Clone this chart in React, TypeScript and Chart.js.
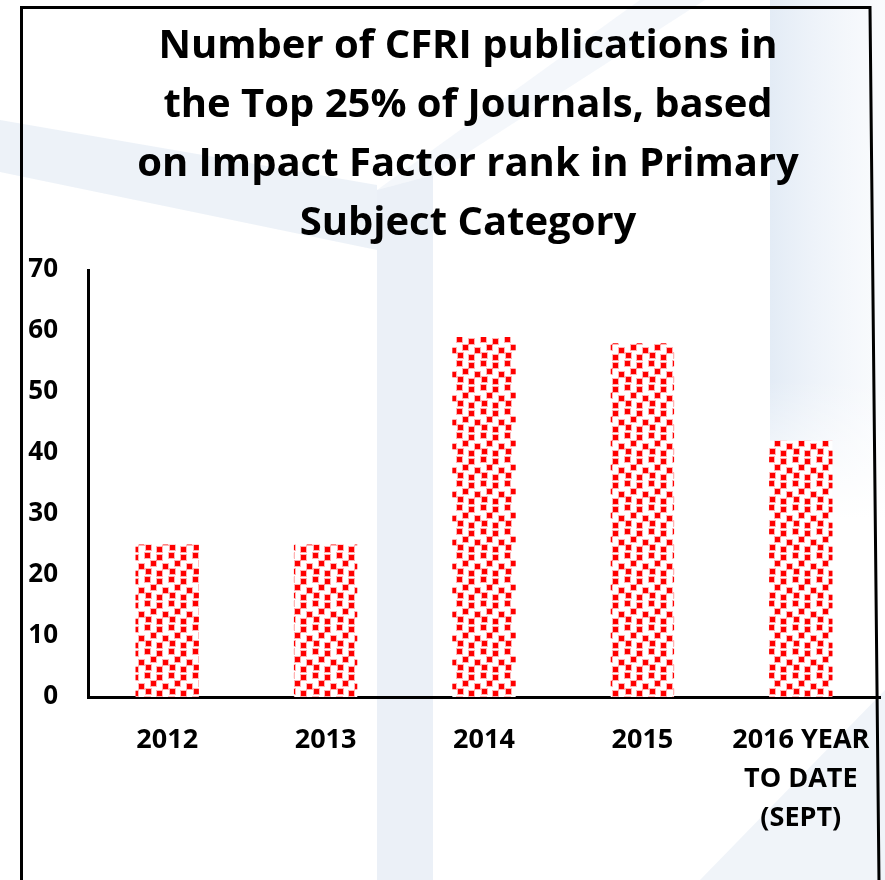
import React, { useEffect, useRef } from "react";
import { Chart, registerables } from "chart.js";

Chart.register(...registerables);

const categories: (string | string[])[] = ["2012", "2013", "2014", "2015", ["2016 YEAR", "TO DATE", "(SEPT)"]];
const publications = [25, 25, 59, 58, 42];
const titleLines = [
  "Number of CFRI publications in",
  "the Top 25% of Journals, based",
  "on Impact Factor rank in Primary",
  "Subject Category",
];
const yMin = 0;
const yMax = 70;
const yStep = 10;

const FONT = "'Open Sans', 'DejaVu Sans', sans-serif";
const W = 885;
const H = 880;

function makeConfetti(): CanvasPattern | string {
  const size = 24;
  const c = document.createElement("canvas");
  c.width = size;
  c.height = size;
  const g = c.getContext("2d");
  if (!g) return "#ff0000";
  g.fillStyle = "#ffffff";
  g.fillRect(0, 0, size, size);
  const dots = [
    [1, 1],
    [13, 3],
    [7, 9],
    [19, 12],
    [2, 17],
    [13, 19],
  ];
  const put = (x: number, y: number, w: number, color: string) => {
    g.fillStyle = color;
    for (const dx of [-size, 0, size]) {
      for (const dy of [-size, 0, size]) {
        g.fillRect(x + dx, y + dy, w, w);
      }
    }
  };
  for (const [x, y] of dots) {
    put(x - 1, y - 1, 7, "rgba(255,0,0,0.3)");
    put(x, y, 5, "#ff0000");
  }
  const p = g.createPattern(c, "repeat");
  return p || "#ff0000";
}

const backdrop = {
  id: "backdrop",
  afterLayout(chart: any) {
    // let the y tick labels use the space left of the axis (no clipping)
    const s = chart.scales.y;
    if (s) {
      s.left = 0;
      s.width = s.right;
    }
  },
  beforeDraw(chart: any) {
    const ctx = chart.ctx as CanvasRenderingContext2D;
    ctx.save();
    ctx.fillStyle = "#ffffff";
    ctx.fillRect(0, 0, W, H);
    const poly = (pts: number[][], color: any) => {
      ctx.beginPath();
      ctx.moveTo(pts[0][0], pts[0][1]);
      for (let i = 1; i < pts.length; i++) ctx.lineTo(pts[i][0], pts[i][1]);
      ctx.closePath();
      ctx.fillStyle = color;
      ctx.fill();
    };
    // faint slide background shapes
    poly([[0, 120], [0, 172], [377, 250], [377, 185]], "rgba(210,222,238,0.4)");
    poly([[377, 190], [433, 175], [433, H], [377, H]], "rgba(218,228,241,0.55)");
    poly([[377, 190], [433, 175], [705, 0], [640, 0]], "rgba(218,228,241,0.3)");
    const gr = ctx.createLinearGradient(770, 0, 880, 0);
    gr.addColorStop(0, "rgba(222,232,244,0.85)");
    gr.addColorStop(1, "rgba(240,244,250,0.4)");
    poly([[770, 0], [W, 0], [W, 520], [770, 520]], gr);
    const fade = ctx.createLinearGradient(0, 380, 0, 520);
    fade.addColorStop(0, "rgba(255,255,255,0)");
    fade.addColorStop(1, "rgba(255,255,255,1)");
    poly([[770, 380], [W, 380], [W, 520], [770, 520]], fade);
    poly([[700, H], [W, 690], [W, H]], "rgba(225,233,243,0.5)");
    ctx.restore();
  },
  afterDraw(chart: any) {
    const ctx = chart.ctx as CanvasRenderingContext2D;
    ctx.save();
    ctx.strokeStyle = "#000000";
    ctx.lineWidth = 3;
    ctx.beginPath();
    ctx.moveTo(21.5, H);
    ctx.lineTo(21.5, 7.5);
    ctx.lineTo(870, 7.5);
    ctx.lineTo(879, H);
    ctx.stroke();
    ctx.restore();
  },
};

export default function App() {
  const ref = useRef<HTMLCanvasElement | null>(null);

  useEffect(() => {
    if (!ref.current) return;
    const chart = new Chart(ref.current, {
      type: "bar",
      data: {
        labels: categories as any,
        datasets: [
          {
            data: publications,
            backgroundColor: makeConfetti() as any,
            borderWidth: 0,
            categoryPercentage: 0.8,
            barPercentage: 0.5,
          },
        ],
      },
      options: {
        animation: false,
        responsive: false,
        layout: { padding: { left: 56, right: 5, top: 0, bottom: 0 } },
        plugins: {
          legend: { display: false },
          tooltip: { enabled: false },
          title: {
            display: true,
            text: titleLines,
            color: "#000000",
            font: { family: FONT, size: 40, weight: "bold", lineHeight: 59 / 40 },
            padding: { top: 17, bottom: 17 },
          },
        },
        scales: {
          x: {
            grid: { display: false, drawTicks: false },
            border: { display: true, color: "#000000", width: 3 },
            ticks: {
              color: "#000000",
              font: { family: FONT, size: 27, weight: "bold", lineHeight: 1.44 },
              padding: 24,
              maxRotation: 0,
              autoSkip: false,
            },
            afterFit(scale: any) {
              scale.height = 183;
              scale.paddingLeft = 0;
              scale.paddingRight = 0;
            },
          },
          y: {
            min: yMin,
            max: yMax,
            grid: { display: false, drawTicks: false },
            border: { display: true, color: "#000000", width: 3 },
            ticks: {
              stepSize: yStep,
              color: "#000000",
              font: { family: FONT, size: 26, weight: "bold" },
              padding: 30,
            },
            afterFit(scale: any) {
              scale.width = 32;
            },
          },
        },
      },
      plugins: [backdrop],
    });
    return () => chart.destroy();
  }, []);

  return (
    <div style={{ position: "fixed", left: 0, top: 0, width: W, height: H, background: "#fff" }}>
      <canvas ref={ref} width={W} height={H} style={{ display: "block" }} />
    </div>
  );
}
